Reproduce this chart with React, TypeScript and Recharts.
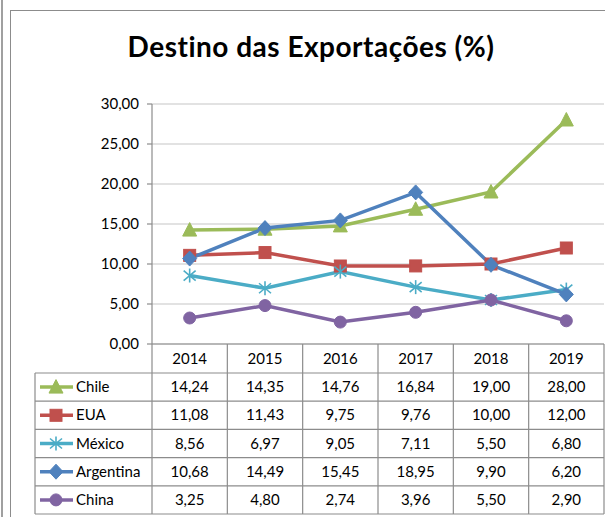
import React from 'react';
import { ComposedChart, Line, XAxis, YAxis, CartesianGrid } from 'recharts';

const years = ['2014', '2015', '2016', '2017', '2018', '2019'];
const chile = [14.24, 14.35, 14.76, 16.84, 19.0, 28.0];
const eua = [11.08, 11.43, 9.75, 9.76, 10.0, 12.0];
const mexico = [8.56, 6.97, 9.05, 7.11, 5.5, 6.8];
const argentina = [10.68, 14.49, 15.45, 18.95, 9.9, 6.2];
const china = [3.25, 4.8, 2.74, 3.96, 5.5, 2.9];
const yTicks = [0, 5, 10, 15, 20, 25, 30];

const seriesDefs = [
  { key: 'Chile', values: chile, color: '#9BBB59', marker: 'triangle' },
  { key: 'EUA', values: eua, color: '#C0504D', marker: 'square' },
  { key: 'México', values: mexico, color: '#4BACC6', marker: 'star' },
  { key: 'Argentina', values: argentina, color: '#4F81BD', marker: 'diamond' },
  { key: 'China', values: china, color: '#8064A2', marker: 'circle' },
];

const data = years.map((y, i) => {
  const row: any = { year: y };
  seriesDefs.forEach((s) => (row[s.key] = s.values[i]));
  return row;
});

const FONT = 'Lato, "Open Sans", sans-serif';
const fmt = (v: number) => v.toFixed(2).replace('.', ',');

function Marker({ kind, cx, cy, color }: { kind: string; cx: number; cy: number; color: string }) {
  if (kind === 'triangle') {
    return <polygon points={`${cx},${cy - 7.5} ${cx - 7},${cy + 6} ${cx + 7},${cy + 6}`} fill={color} stroke={color} strokeWidth={1} />;
  }
  if (kind === 'square') {
    return <rect x={cx - 6} y={cy - 6} width={12} height={12} fill={color} stroke={color} strokeWidth={1} />;
  }
  if (kind === 'diamond') {
    return <polygon points={`${cx},${cy - 7.5} ${cx + 7},${cy} ${cx},${cy + 7.5} ${cx - 7},${cy}`} fill={color} stroke={color} strokeWidth={1} />;
  }
  if (kind === 'circle') {
    return <circle cx={cx} cy={cy} r={6} fill={color} stroke={color} strokeWidth={1} />;
  }
  return (
    <g stroke={color} strokeWidth={1.6}>
      <line x1={cx} y1={cy - 7} x2={cx} y2={cy + 7} />
      <line x1={cx - 6} y1={cy - 5} x2={cx + 6} y2={cy + 5} />
      <line x1={cx - 6} y1={cy + 5} x2={cx + 6} y2={cy - 5} />
    </g>
  );
}

const CH_W = 605;
const PLOT_L = 152;
const PLOT_R = 604;
const PLOT_T = 104;
const PLOT_B = 344;
const TABLE_L = 35;
const HEADER_B = 373;
const ROW_H = 28.2;
const COL_W = (PLOT_R - PLOT_L) / years.length;
const GRID = '#8c8c8c';

function DataTable() {
  const rowsBottom = HEADER_B + ROW_H * seriesDefs.length;
  return (
    <svg width={CH_W} height={517} style={{ position: 'absolute', left: 0, top: 0 }}>
      <text x={311} y={57} textAnchor="middle" fontFamily={FONT} fontWeight={700} fontSize={28} letterSpacing={0.5} fill="#000">
        Destino das Exportações (%)
      </text>
      {years.map((_, i) => (
        <line key={'v' + i} x1={PLOT_L + (i + 1) * COL_W} y1={PLOT_B} x2={PLOT_L + (i + 1) * COL_W} y2={rowsBottom} stroke={GRID} strokeWidth={1.2} />
      ))}
      <line x1={PLOT_L} y1={PLOT_B} x2={PLOT_L} y2={rowsBottom} stroke={GRID} strokeWidth={1.2} />
      <line x1={TABLE_L} y1={HEADER_B} x2={TABLE_L} y2={rowsBottom} stroke={GRID} strokeWidth={1.2} />
      <line x1={PLOT_L} y1={PLOT_B} x2={PLOT_R} y2={PLOT_B} stroke={GRID} strokeWidth={1.2} />
      {seriesDefs.map((_, r) => (
        <line key={'h' + r} x1={TABLE_L} y1={HEADER_B + r * ROW_H} x2={PLOT_R} y2={HEADER_B + r * ROW_H} stroke={GRID} strokeWidth={1.2} />
      ))}
      <line x1={TABLE_L} y1={rowsBottom} x2={PLOT_R} y2={rowsBottom} stroke={GRID} strokeWidth={1.2} />
      {years.map((y, i) => (
        <text key={'y' + i} x={PLOT_L + (i + 0.5) * COL_W} y={(PLOT_B + HEADER_B) / 2 + 5} textAnchor="middle" fontFamily={FONT} fontSize={15} fill="#000">
          {y}
        </text>
      ))}
      {seriesDefs.map((s, r) => {
        const cy = HEADER_B + (r + 0.5) * ROW_H;
        return (
          <g key={s.key}>
            <line x1={40} y1={cy} x2={73} y2={cy} stroke={s.color} strokeWidth={3.5} />
            <Marker kind={s.marker} cx={56} cy={cy} color={s.color} />
            <text x={76} y={cy + 5} fontFamily={FONT} fontSize={15} fill="#000">
              {s.key}
            </text>
            {s.values.map((v, i) => (
              <text key={i} x={PLOT_L + (i + 0.5) * COL_W} y={cy + 5} textAnchor="middle" fontFamily={FONT} fontSize={15} fill="#000">
                {fmt(v)}
              </text>
            ))}
          </g>
        );
      })}
    </svg>
  );
}

export default function App() {
  return (
    <div style={{ position: 'absolute', left: 0, top: 0, width: 605, height: 517, background: '#fff', overflow: 'hidden' }}>
      <div style={{ position: 'absolute', left: 1, top: 0, width: 2, height: 517, background: '#a0a0a0' }} />
      <div style={{ position: 'absolute', left: 10, top: 10, width: 620, height: 540, border: '1.5px solid #8c8c8c' }} />
      <div style={{ position: 'absolute', left: 0, top: 0 }}>
        <ComposedChart
          width={CH_W}
          height={PLOT_B + 14}
          data={data}
          margin={{ top: PLOT_T, right: CH_W - PLOT_R, left: 0, bottom: 14 }}
        >
          <CartesianGrid vertical={false} stroke="#d9d9d9" strokeWidth={1.5} />
          <XAxis dataKey="year" hide scale="band" />
          <YAxis
            width={PLOT_L}
            domain={[0, 30]}
            ticks={yTicks}
            interval={0}
            tickFormatter={fmt}
            axisLine={{ stroke: GRID, strokeWidth: 1.2 }}
            tickLine={{ stroke: GRID, strokeWidth: 1.2 }}
            tickSize={5}
            tickMargin={8}
            tick={{ fontFamily: FONT, fontSize: 15, fill: '#000' }}
          />
          {seriesDefs.map((s) => (
            <Line
              key={s.key}
              dataKey={s.key}
              stroke={s.color}
              strokeWidth={3.5}
              isAnimationActive={false}
              dot={(p: any) => <Marker key={s.key + p.index} kind={s.marker} cx={p.cx} cy={p.cy} color={s.color} />}
              activeDot={false}
            />
          ))}
        </ComposedChart>
      </div>
      <DataTable />
    </div>
  );
}
